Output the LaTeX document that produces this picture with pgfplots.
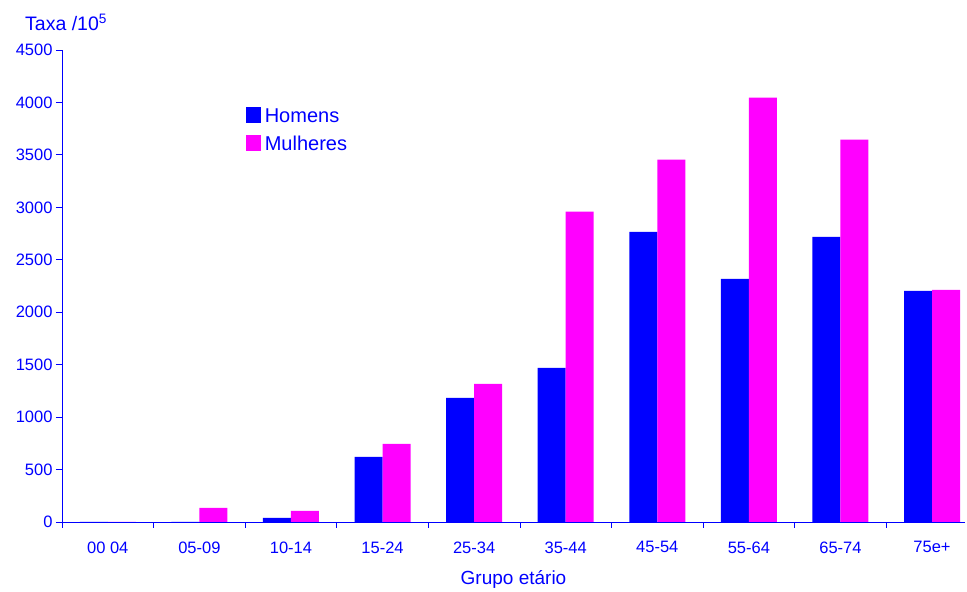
\documentclass[border=0pt]{standalone}
\usepackage{fontspec}
\setmainfont{Liberation Sans}
\usepackage{pgfplots}
\pgfplotsset{compat=1.18}
\definecolor{hblue}{RGB}{0,0,255}
\definecolor{mmag}{RGB}{255,0,255}
\begin{document}
\begin{tikzpicture}
\begin{axis}[
  scale only axis, width=903pt, height=472pt,
  ybar=0pt, bar width=28pt,
  xmin=-0.5, xmax=9.36, ymin=0, ymax=4500,
  axis x line*=bottom, axis y line*=left,
  axis line style={hblue, line width=0.8pt},
  xtick={0,...,9},
  xticklabels={00 04,05-09,10-14,15-24,25-34,35-44,45-54,55-64,65-74,75e+},
  minor xtick={-0.5,0.5,...,8.5},
  major x tick style={draw=none},
  minor tick length=6pt,
  tick style={hblue, line width=0.8pt},
  ytick={0,500,...,4500},
  major tick length=6pt,
  tick align=outside,
  scaled y ticks=false,
  yticklabel style={/pgf/number format/1000 sep={}},
  /pgf/number format/assume math mode=true,
  tick label style={text=hblue, font=\fontsize{16.5}{19}\selectfont},
  xticklabel style={yshift=-10pt},
  xlabel={Grupo etário},
  xlabel style={text=hblue, font=\fontsize{19}{22}\selectfont, yshift=-10pt},
  legend style={at={(0.2,0.885)}, anchor=north west, draw=none, fill=none,
    font=\fontsize{20}{23}\selectfont, text=hblue, row sep=8pt,
    /tikz/every odd column/.append style={column sep=2pt}},
  legend cell align=left,
  legend image code/.code={\fill[#1] (0pt,-7pt) rectangle (15pt,9pt);},
  clip=false,
]
\addplot[fill=hblue, draw=none] coordinates {(0,0) (1,0) (2,40) (3,620) (4,1183) (5,1470) (6,2767) (7,2319) (8,2719) (9,2204)};
\addplot[fill=mmag, draw=none] coordinates {(0,0) (1,135) (2,105) (3,745) (4,1317) (5,2958) (6,3454) (7,4046) (8,3645) (9,2214)};
\legend{Homens,Mulheres}
\node[anchor=base west, text=hblue, font=\fontsize{19.5}{22}\selectfont, inner sep=0pt] at ([xshift=-37pt,yshift=19pt]rel axis cs:0,1) {Taxa /10\textsuperscript{5}};
\path ([xshift=-62pt,yshift=-68pt]rel axis cs:0,0) ([xshift=2pt,yshift=50pt]rel axis cs:1,1);
\end{axis}
\end{tikzpicture}
\end{document}
